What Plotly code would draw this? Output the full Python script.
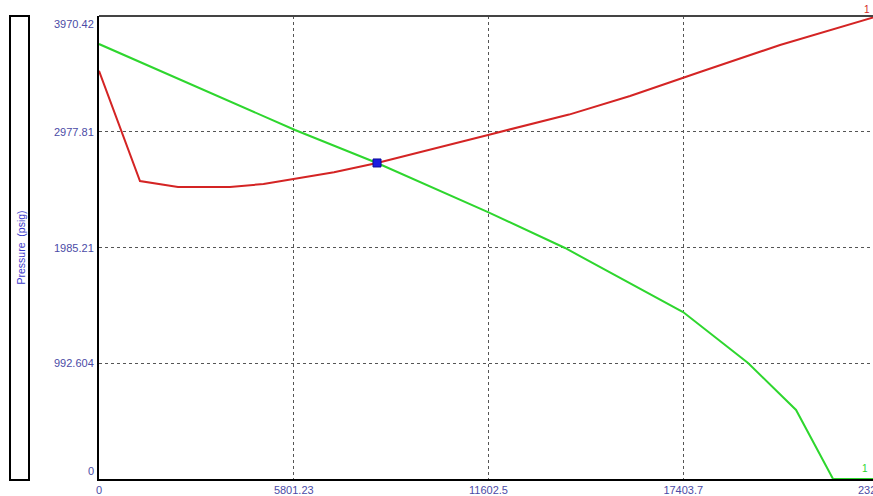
import plotly.graph_objects as go

# Flow distance axis (ft) and pressure axis (psig) ticks
x_ticks = [0, 5801.23, 11602.5, 17403.7, 23204.9]
x_tick_text = ["0", "5801.23", "11602.5", "17403.7", "23204.9"]
y_ticks = [0, 992.604, 1985.21, 2977.81, 3970.42]
y_tick_text = ["0", "992.604", "1985.21", "2977.81", "3970.42"]

# Curve 1 (red)
red_x = [0, 1221, 2353, 3902, 4900, 5780, 7000, 8282, 9900, 11648, 14000,
         15819, 17904, 20287, 23204.9]
red_y = [3500, 2555, 2504, 2504, 2530, 2572, 2630, 2710, 2825, 2955, 3125,
         3284, 3490, 3722, 3970.42]

# Curve 1 (green)
green_x = [0, 5839, 8282, 11588, 13882, 17398, 19334, 20764, 21866, 23204.9]
green_y = [3730, 2993, 2710, 2289, 1981, 1432, 995, 592, 0, 0]

# Operating point where the curves cross
op_x = [8282]
op_y = [2710]

W, H = 873, 496
ML, MT, MB = 99, 16, 17
plot_w = W - ML
plot_h = H - MT - MB
full_w = 779  # pixel span of the full distance range
x_view = x_ticks[-1] * plot_w / full_w

label_font = dict(family="Liberation Sans, Arial", size=11, color="#4b4ba6")

fig = go.Figure()
fig.add_trace(go.Scatter(x=red_x, y=red_y, mode="lines",
                         line=dict(color="#d42424", width=2), hoverinfo="skip"))
fig.add_trace(go.Scatter(x=green_x, y=green_y, mode="lines",
                         line=dict(color="#2ed62e", width=2), hoverinfo="skip"))
fig.add_trace(go.Scatter(x=op_x, y=op_y, mode="markers",
                         marker=dict(symbol="square", size=8, color="#1c1ce0",
                                     line=dict(color="#0a0a9a", width=1)),
                         hoverinfo="skip"))

fig.update_layout(
    width=W, height=H,
    margin=dict(l=ML, r=0, t=MT, b=MB),
    paper_bgcolor="white", plot_bgcolor="white",
    showlegend=False,
    xaxis=dict(range=[0, x_view], tickvals=x_ticks[:-1], ticktext=x_tick_text[:-1],
               showgrid=True, gridcolor="#555555", griddash="dot", gridwidth=1,
               showline=True, linecolor="black", linewidth=2, zeroline=False,
               ticks="", tickfont=label_font, fixedrange=True),
    yaxis=dict(range=[0, y_ticks[-1]], tickvals=y_ticks, showticklabels=False,
               showgrid=True, gridcolor="#555555", griddash="dot", gridwidth=1,
               showline=True, linecolor="black", linewidth=2, zeroline=False,
               ticks="", fixedrange=True),
)

# Pressure tick labels, kept inside the frame at both ends
for i, (v, t) in enumerate(zip(y_ticks, y_tick_text)):
    if i == 0:
        anchor = "bottom"
    elif i == len(y_ticks) - 1:
        anchor = "top"
    else:
        anchor = "middle"
    fig.add_annotation(x=0, xref="paper", y=v, yref="y", text=t, showarrow=False,
                       xanchor="right", yanchor=anchor, xshift=-3, font=label_font)

# Last distance label sits past the right edge of the view
fig.add_annotation(x=x_ticks[-1] / x_view, xref="paper", y=0, yref="paper",
                   text=x_tick_text[-1], showarrow=False, xanchor="center",
                   yanchor="top", yshift=-3, font=label_font)

# Curve end tags
fig.add_annotation(x=1, xref="paper", y=1, yref="paper", text="1", showarrow=False,
                   xanchor="right", yanchor="bottom", xshift=-1, yshift=-1,
                   font=dict(family="Liberation Sans, Arial", size=10, color="#d42424"))
fig.add_annotation(x=1, xref="paper", y=0, yref="paper", text="1", showarrow=False,
                   xanchor="right", yanchor="bottom", xshift=-3, yshift=3,
                   font=dict(family="Liberation Sans, Arial", size=10, color="#2ed62e"))

# Top frame edge
fig.add_shape(type="line", xref="paper", yref="paper", x0=0, x1=1, y0=1, y1=1,
              line=dict(color="#444444", width=2))

# Axis title box on the left
fig.add_shape(type="rect", xref="paper", yref="paper",
              x0=(10 - ML) / plot_w, x1=(29 - ML) / plot_w,
              y0=-1 / plot_h, y1=1,
              line=dict(color="black", width=2), fillcolor="white", layer="below")
fig.add_annotation(x=(20 - ML) / plot_w, xref="paper", y=0.5, yref="paper",
                   text="Pressure  (psig)", textangle=-90, showarrow=False,
                   xanchor="center", yanchor="middle",
                   font=dict(family="Liberation Sans, Arial", size=10.5, color="#3a3acc"))

fig.write_html("out.html", config={"displayModeBar": False})
